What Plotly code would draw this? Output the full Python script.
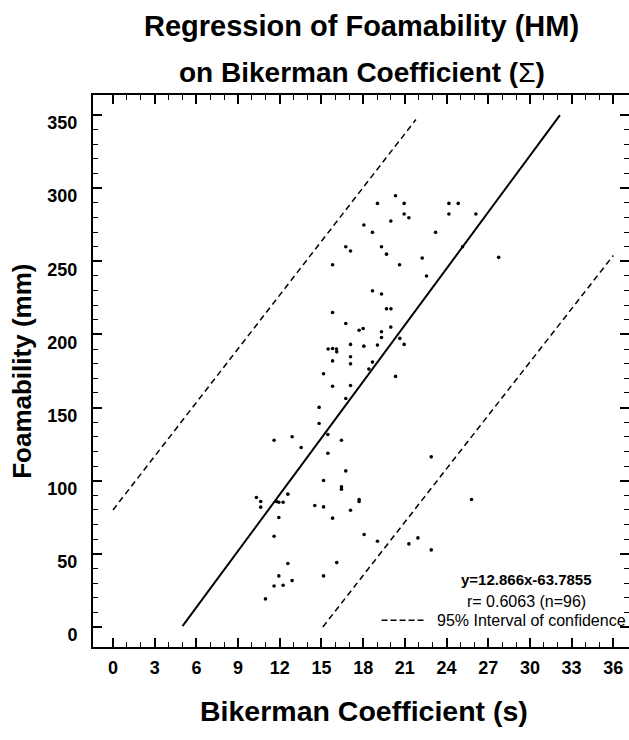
import plotly.graph_objects as go

# ---------------- data ----------------
bikerman_s = [15.80, 15.80, 16.75, 17.09, 16.75, 17.71, 18.00, 18.05, 18.67, 18.67,
              19.03, 19.32, 19.32, 19.32, 19.32, 19.68, 19.68, 20.00, 19.99, 19.99,
              20.33, 20.62, 20.64, 20.95, 20.95, 21.29, 22.25, 22.56, 23.21, 24.17,
              24.84, 24.17, 26.11, 25.15, 27.75,
              15.48, 15.80, 16.08, 16.10, 15.80, 15.15, 15.80, 14.83, 14.83, 15.46,
              15.46, 11.59, 12.89, 13.54, 15.15, 10.32, 10.63, 10.63, 11.76, 11.93,
              12.24, 12.58, 11.93, 14.52, 15.15, 15.80, 11.59, 12.58, 16.10, 11.93,
              15.15, 11.59, 12.24, 12.89, 10.97,
              20.95, 17.09, 18.05, 19.03, 17.09, 17.09, 18.67, 18.41, 20.33, 17.09,
              16.75, 16.44, 16.75, 16.44, 16.44, 17.71, 17.71, 17.09, 18.07, 19.03,
              22.90, 25.80, 21.29, 21.94, 22.90]
foamability_mm = [247.6, 215.0, 259.9, 257.0, 207.5, 202.9, 204.1, 274.8, 269.8, 229.8,
                  289.6, 259.9, 227.6, 201.8, 197.9, 254.9, 217.5, 217.5, 277.5, 205.0,
                  294.8, 247.6, 197.3, 289.6, 282.3, 279.8, 252.2, 239.9, 269.8, 289.6,
                  289.6, 282.3, 282.3, 259.9, 252.7,
                  190.0, 190.4, 190.0, 188.1, 181.9, 173.1, 164.6, 150.1, 139.1, 131.6,
                  118.8, 127.7, 130.0, 122.7, 100.1, 88.5, 85.8, 81.9, 85.8, 85.3,
                  85.3, 90.8, 74.8, 83.0, 82.1, 74.4, 62.0, 43.4, 44.0, 34.9,
                  34.9, 28.0, 28.5, 31.7, 19.2,
                  193.2, 193.2, 192.0, 192.7, 184.7, 179.9, 181.1, 176.3, 171.3, 165.1,
                  156.2, 127.7, 106.7, 95.8, 94.2, 87.1, 85.8, 79.8, 63.2, 58.6,
                  116.3, 87.1, 56.8, 60.9, 52.7]

slope = 12.866
intercept = -63.7855
fit_x = [5.0, 32.16]
fit_y = [slope * v + intercept for v in fit_x]

upper_ci_x = [0.0, 21.8]
upper_ci_y = [80.0, 347.0]
lower_ci_x = [15.1, 36.0]
lower_ci_y = [0.0, 254.0]

x_ticks = list(range(0, 37, 3))
x_minor = list(range(0, 37, 1))
y_ticks = list(range(0, 351, 50))
y_minor = list(range(0, 351, 10))

title_line1 = "Regression of Foamability (HM)"
title_line2 = "on Bikerman Coefficient (</b>Σ<b>)"
x_title = "Bikerman Coefficient (s)"
y_title = "Foamability (mm)"
eq_text = "y=12.866x-63.7855"
r_text = "r= 0.6063 (n=96)"
ci_text = "95% Interval of confidence"

# ---------------- layout geometry ----------------
W, H = 629, 740
L, R, T, B = 93.3, 629.0, 95.0, 646.7


def fx(px):
    return (px - L) / (R - L)


def fy(py):
    return (B - py) / (B - T)


FONT = "Liberation Sans, Arial, sans-serif"

fig = go.Figure()
fig.add_trace(go.Scatter(x=upper_ci_x, y=upper_ci_y, mode="lines",
                         line=dict(color="black", width=1.5, dash="6px,4px"),
                         showlegend=False, hoverinfo="skip"))
fig.add_trace(go.Scatter(x=lower_ci_x, y=lower_ci_y, mode="lines",
                         line=dict(color="black", width=1.5, dash="6px,4px"),
                         showlegend=False, hoverinfo="skip"))
fig.add_trace(go.Scatter(x=fit_x, y=fit_y, mode="lines",
                         line=dict(color="black", width=2),
                         showlegend=False, hoverinfo="skip"))
fig.add_trace(go.Scatter(x=bikerman_s, y=foamability_mm, mode="markers",
                         marker=dict(color="black", size=3.6, line=dict(width=0)),
                         showlegend=False))

axis_common = dict(showline=True, linewidth=2, linecolor="black", mirror="ticks",
                   ticks="inside", ticklen=9, tickwidth=1.5, tickcolor="black",
                   showgrid=False, zeroline=False, automargin=False,
                   tickfont=dict(family=FONT, size=18, color="black", weight="bold"))

fig.update_xaxes(range=[-1.44, 37.13], tickmode="array", tickvals=x_ticks,
                 ticktext=[str(v) for v in x_ticks],
                 minor=dict(ticks="inside", ticklen=5, tickwidth=1, tickcolor="black",
                            tickmode="array", tickvals=x_minor, showgrid=False),
                 ticklabelstandoff=3, **axis_common)
fig.update_yaxes(range=[-13.7, 363.7], tickmode="array", tickvals=y_ticks,
                 ticktext=[str(v) for v in y_ticks],
                 minor=dict(ticks="inside", ticklen=5, tickwidth=1, tickcolor="black",
                            tickmode="array", tickvals=y_minor, showgrid=False),
                 ticklabelstandoff=10, ticklabelshift=8, **axis_common)

annotations = [
    dict(text="<b>" + title_line1 + "</b>", x=fx(362), y=fy(26),
         font=dict(family=FONT, size=29, color="black")),
    dict(text="<b>" + title_line2 + "</b>", x=fx(362), y=fy(73),
         font=dict(family=FONT, size=28, color="black")),
    dict(text="<b>" + x_title + "</b>", x=fx(364), y=fy(711),
         font=dict(family=FONT, size=28.5, color="black")),
    dict(text="<b>" + y_title + "</b>", x=fx(22), y=fy(371), textangle=-90,
         font=dict(family=FONT, size=26, color="black")),
    dict(text="<b>" + eq_text + "</b>", x=fx(527), y=fy(579.7),
         font=dict(family=FONT, size=15, color="black")),
    dict(text=r_text, x=fx(526.5), y=fy(600.8),
         font=dict(family=FONT, size=16, color="black")),
    dict(text=ci_text, x=fx(435), y=fy(620), xanchor="left",
         font=dict(family=FONT, size=16, color="black")),
]
for a in annotations:
    a.setdefault("xanchor", "center")
    a.update(xref="paper", yref="paper", yanchor="middle", showarrow=False)

fig.update_layout(
    width=W, height=H,
    margin=dict(l=L, r=W - R, t=T, b=H - B, pad=0, autoexpand=False),
    paper_bgcolor="white", plot_bgcolor="white",
    annotations=annotations,
    shapes=[dict(type="line", xref="paper", yref="paper",
                 x0=fx(381.7), x1=fx(426.7), y0=fy(620), y1=fy(620),
                 line=dict(color="black", width=1.5, dash="6px,3px"))],
)

fig.write_html("out.html",
               config={"displayModeBar": False},
               post_script="document.body.style.margin='0';"
                           "document.body.style.padding='0';")
